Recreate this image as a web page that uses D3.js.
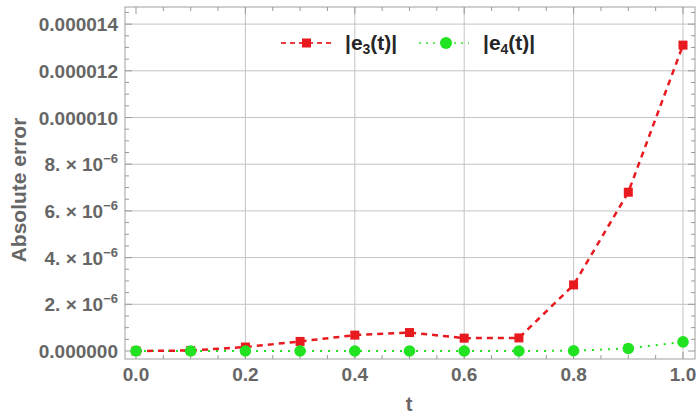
<!DOCTYPE html>
<html><head><meta charset="utf-8">
<script src="https://cdn.jsdelivr.net/npm/d3@7"></script>
<style>body{margin:0;background:#fff}svg{display:block}</style>
</head><body>
<svg id="c" width="696" height="416"></svg>
<script>
const tValues = [0, 0.1, 0.2, 0.3, 0.4, 0.5, 0.6, 0.7, 0.8, 0.9, 1.0];
const e3Values = [0, 0.02e-6, 0.17e-6, 0.41e-6, 0.68e-6, 0.79e-6, 0.55e-6, 0.56e-6, 2.83e-6, 6.8e-6, 13.1e-6];
const e4Values = [0, 0, 0, 0, 0, 0, 0, 0, 0.01e-6, 0.11e-6, 0.39e-6];
const xTicks = [0, 0.2, 0.4, 0.6, 0.8, 1.0];
const xTickLabels = ["0.0", "0.2", "0.4", "0.6", "0.8", "1.0"];
const yTicks = [0, 2e-6, 4e-6, 6e-6, 8e-6, 10e-6, 12e-6, 14e-6];
const yTickLabels = ["0.000000", "2. × 10|−6", "4. × 10|−6", "6. × 10|−6", "8. × 10|−6", "0.000010", "0.000012", "0.000014"];

const svg = d3.select("#c");
const L = 125, R = 695, T = 7, B = 359;
const x = d3.scaleLinear().domain([0, 1]).range([136, 683]);
const y = d3.scaleLinear().domain([0, 14e-6]).range([351, 24.1]);
const txtCol = "#666";
const font = "'Liberation Sans', Arial, sans-serif";

// grid
const g = svg.append("g");
g.selectAll(".vg").data(xTicks.filter(d => d > 0)).enter().append("line")
  .attr("x1", d => x(d)).attr("x2", d => x(d)).attr("y1", T).attr("y2", B)
  .attr("stroke", "#c4c4c4").attr("stroke-width", 1);
g.selectAll(".hg").data(yTicks.filter(d => d > 0)).enter().append("line")
  .attr("x1", L).attr("x2", R).attr("y1", d => y(d)).attr("y2", d => y(d))
  .attr("stroke", "#c4c4c4").attr("stroke-width", 1);

// frame
svg.append("rect").attr("x", L).attr("y", T).attr("width", R - L).attr("height", B - T)
  .attr("fill", "none").attr("stroke", "#a0a0a0").attr("stroke-width", 1);

// ticks
const xMinor = d3.range(0, 1.0001, 0.05).filter(v => x(v) > L && x(v) < R);
const yMinor = d3.range(0, 14.6e-6, 0.5e-6);
const tk = svg.append("g").attr("stroke", "#999").attr("stroke-width", 1);
xMinor.forEach(v => {
  const major = Math.abs(Math.round(v * 5) - v * 5) < 1e-6;
  const len = major ? 7 : 4;
  tk.append("line").attr("x1", x(v)).attr("x2", x(v)).attr("y1", B).attr("y2", B - len);
  tk.append("line").attr("x1", x(v)).attr("x2", x(v)).attr("y1", T).attr("y2", T + len);
});
yMinor.forEach(v => {
  const k = v / 2e-6;
  const major = Math.abs(Math.round(k) - k) < 1e-6;
  const len = major ? 7 : 4;
  tk.append("line").attr("x1", L).attr("x2", L + len).attr("y1", y(v)).attr("y2", y(v));
  tk.append("line").attr("x1", R).attr("x2", R - len).attr("y1", y(v)).attr("y2", y(v));
});

// x tick labels
svg.selectAll(".xl").data(xTicks).enter().append("text")
  .attr("x", d => x(d)).attr("y", 381).attr("text-anchor", "middle")
  .attr("font-family", font).attr("font-weight", "bold").attr("font-size", 19)
  .attr("fill", txtCol).text((d, i) => xTickLabels[i]);

// y tick labels
yTicks.forEach((v, i) => {
  const lab = yTickLabels[i];
  const t = svg.append("text").attr("x", 118).attr("y", y(v) + 7).attr("text-anchor", "end")
    .attr("font-family", font).attr("font-weight", "bold").attr("font-size", 19).attr("fill", txtCol)
    .attr("xml:space", "preserve").style("white-space", "pre");
  if (lab.includes("|")) {
    const [base, ex] = lab.split("|");
    t.append("tspan").text(base);
    t.append("tspan").attr("dy", -8).attr("font-size", 13).text(ex);
  } else {
    t.text(lab);
  }
});

// axis titles
svg.append("text").attr("x", 409).attr("y", 411).attr("text-anchor", "middle")
  .attr("font-family", font).attr("font-weight", "bold").attr("font-size", 20).attr("fill", txtCol).text("t");
svg.append("text").attr("transform", "translate(26,190) rotate(-90)").attr("text-anchor", "middle")
  .attr("font-family", font).attr("font-weight", "bold").attr("font-size", 21).attr("fill", txtCol).text("Absolute error");

// series
const red = "#e8191f", green = "#22e322";
const line = d3.line().x(d => x(d[0])).y(d => y(d[1]));
const d3data = tValues.map((t, i) => [t, e3Values[i]]);
const d4data = tValues.map((t, i) => [t, e4Values[i]]);

svg.append("path").datum(d4data).attr("d", line).attr("fill", "none")
  .attr("stroke", green).attr("stroke-width", 2).attr("stroke-dasharray", "2,6");
svg.append("path").datum(d3data).attr("d", line).attr("fill", "none")
  .attr("stroke", red).attr("stroke-width", 2.5).attr("stroke-dasharray", "6,5");

svg.selectAll(".m3").data(d3data).enter().append("rect")
  .attr("x", d => x(d[0]) - 4.5).attr("y", d => y(d[1]) - 4.5).attr("width", 9).attr("height", 9).attr("fill", red);
svg.selectAll(".m4").data(d4data).enter().append("circle")
  .attr("cx", d => x(d[0])).attr("cy", d => y(d[1])).attr("r", 5.8).attr("fill", green);

// legend
const ly = 43;
const lg = svg.append("g");
lg.append("line").attr("x1", 281).attr("x2", 331).attr("y1", ly).attr("y2", ly)
  .attr("stroke", red).attr("stroke-width", 2).attr("stroke-dasharray", "5,4").attr("opacity", 0.85);
lg.append("rect").attr("x", 302).attr("y", ly - 4.5).attr("width", 9).attr("height", 9).attr("fill", red);
const t3 = lg.append("text").attr("x", 345).attr("y", ly + 7).attr("font-family", font)
  .attr("font-weight", "bold").attr("font-size", 21).attr("fill", "#262626");
t3.append("tspan").text("|e");
t3.append("tspan").attr("dy", 4).attr("font-size", 14).text("3");
t3.append("tspan").attr("dy", -4).text("(t)|");

lg.append("line").attr("x1", 419).attr("x2", 469).attr("y1", ly).attr("y2", ly)
  .attr("stroke", green).attr("stroke-width", 2).attr("stroke-dasharray", "2,5").attr("opacity", 0.7);
lg.append("circle").attr("cx", 446).attr("cy", ly).attr("r", 6).attr("fill", green);
const t4 = lg.append("text").attr("x", 483).attr("y", ly + 7).attr("font-family", font)
  .attr("font-weight", "bold").attr("font-size", 21).attr("fill", "#262626");
t4.append("tspan").text("|e");
t4.append("tspan").attr("dy", 4).attr("font-size", 14).text("4");
t4.append("tspan").attr("dy", -4).text("(t)|");
</script>
</body></html>
